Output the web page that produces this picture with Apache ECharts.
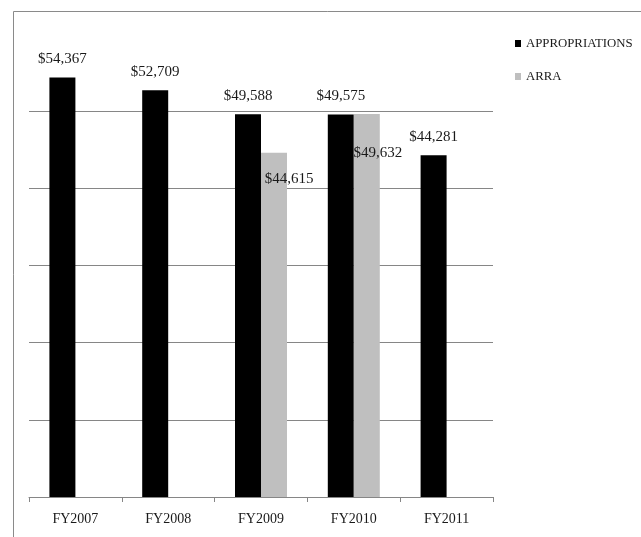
<!DOCTYPE html>
<html>
<head>
<meta charset="utf-8">
<script src="https://cdn.jsdelivr.net/npm/echarts@6/dist/echarts.min.js"></script>
<style>
html,body{margin:0;padding:0;background:#fff;}
#chart{width:641px;height:537px;}
</style>
</head>
<body>
<div id="chart"></div>
<script>
// ---- data ----
const categories = ['FY2007', 'FY2008', 'FY2009', 'FY2010', 'FY2011'];
const appropriations = [54367, 52709, 49588, 49575, 44281];
const arra = [null, null, 44615, 49632, null];
const seriesNames = ['APPROPRIATIONS', 'ARRA'];

// ---- presentation ----
const FONT = "'Liberation Serif', 'Times New Roman', serif";
const fmt = v => '$' + Number(v).toLocaleString('en-US');
// manual label nudges for the ARRA labels (as placed in the original)
const arraLabelNudge = { 2: [15, 45], 3: [11, 58] };

const chart = echarts.init(document.getElementById('chart'), null, { renderer: 'canvas' });

const labelBase = {
  show: true,
  position: 'top',
  distance: 11,
  fontFamily: FONT,
  fontSize: 15,
  color: '#1a1a1a',
  formatter: p => fmt(p.value)
};

const arraData = arra.map((v, i) => {
  if (v == null) return null;
  const item = { value: v };
  if (arraLabelNudge[i]) item.label = { offset: arraLabelNudge[i] };
  return item;
});

chart.setOption({
  animation: false,
  backgroundColor: '#ffffff',
  graphic: [{
    type: 'rect',
    shape: { x: 13.5, y: 11.5, width: 700, height: 600 },
    style: { fill: 'none', stroke: '#8a8a8a', lineWidth: 1 },
    silent: true,
    z: -1
  }],
  legend: {
    orient: 'vertical',
    left: 515,
    top: 37,
    padding: 0,
    itemWidth: 6,
    itemHeight: 7,
    itemGap: 20,
    icon: 'rect',
    textStyle: { fontFamily: FONT, fontSize: 12.8, color: '#1a1a1a' },
    data: seriesNames
  },
  grid: { left: 29, right: 148, top: 34, bottom: 40, containLabel: false },
  xAxis: {
    type: 'category',
    data: categories,
    axisLine: { show: true, lineStyle: { color: '#868686', width: 1 } },
    axisTick: { show: true, length: 5, alignWithLabel: false, lineStyle: { color: '#868686' } },
    axisLabel: { fontFamily: FONT, fontSize: 14, color: '#1a1a1a', margin: 15 },
    splitLine: { show: false }
  },
  yAxis: {
    type: 'value',
    min: 0,
    max: 60000,
    interval: 10000,
    axisLine: { show: false },
    axisTick: { show: false },
    axisLabel: { show: false },
    splitLine: { show: true, showMaxLine: false, lineStyle: { color: '#868686', width: 1 } }
  },
  series: [
    {
      name: seriesNames[0],
      type: 'bar',
      data: appropriations,
      barWidth: 26,
      barGap: '0%',
      itemStyle: { color: '#000000' },
      label: labelBase
    },
    {
      name: seriesNames[1],
      type: 'bar',
      data: arraData,
      barWidth: 26,
      barGap: '0%',
      itemStyle: { color: '#bfbfbf' },
      label: labelBase
    }
  ]
});
</script>
</body>
</html>
